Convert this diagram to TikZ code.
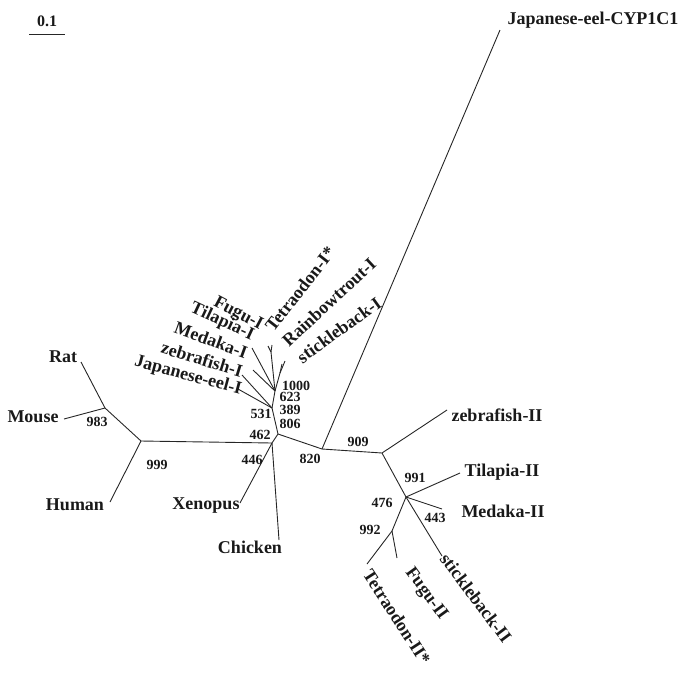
\documentclass[tikz,border=0pt]{standalone}
\usepackage{fontspec}
\setmainfont{Liberation Serif}
\begin{document}
\begin{tikzpicture}[x=1pt,y=-1pt,
  br/.style={line width=0.9pt, draw=black!85},
  leaf/.style={font=\fontsize{18}{20}\selectfont\bfseries, inner sep=0pt, text=black!90},
  boot/.style={font=\fontsize{14}{16}\selectfont\bfseries, inner sep=0pt, text=black!90}]
\useasboundingbox (0,0) rectangle (682,673);

% internal nodes
\coordinate (A) at (105,408);
\coordinate (B) at (141,441);
\coordinate (C) at (272,443);
\coordinate (D) at (278,434);
\coordinate (P) at (272,408);
\coordinate (Q) at (275,391);
\coordinate (RS) at (280,373);
\coordinate (Yf) at (271,352);
\coordinate (E) at (322,449);
\coordinate (F) at (382,453);
\coordinate (G) at (406,497);
\coordinate (H) at (392,531);

% tips
\coordinate (tRat) at (81,362);
\coordinate (tMouse) at (64,419);
\coordinate (tHuman) at (110,502);
\coordinate (tXen) at (240,503);
\coordinate (tChk) at (279,540);
\coordinate (tJe1) at (238,389);
\coordinate (tZf1) at (242,375);
\coordinate (tMed1) at (253,370);
\coordinate (tTil1) at (252,348);
\coordinate (tFugu1) at (268,346);
\coordinate (tTet1) at (272,345);
\coordinate (tRb1) at (285,361);
\coordinate (tSt1) at (282,364);
\coordinate (tJc) at (500,30);
\coordinate (tZf2) at (447,410);
\coordinate (tTil2) at (460,473);
\coordinate (tMed2) at (442,509);
\coordinate (tSt2) at (442,556);
\coordinate (tTet2) at (367,564);
\coordinate (tFugu2) at (397,558);

% branches
\draw[br] (A) -- (tRat);
\draw[br] (A) -- (tMouse);
\draw[br] (A) -- (B);
\draw[br] (B) -- (tHuman);
\draw[br] (B) -- (C);
\draw[br] (C) -- (tXen);
\draw[br] (C) -- (tChk);
\draw[br] (C) -- (D);
\draw[br] (D) -- (P);
\draw[br] (P) -- (tJe1);
\draw[br] (P) -- (tZf1);
\draw[br] (P) -- (Q);
\draw[br] (Q) -- (tMed1);
\draw[br] (Q) -- (RS);
\draw[br] (RS) -- (tRb1);
\draw[br] (RS) -- (tSt1);
\draw[br] (Q) -- (tTil1);
\draw[br] (Q) -- (Yf);
\draw[br] (Yf) -- (tFugu1);
\draw[br] (Yf) -- (tTet1);
\draw[br] (D) -- (E);
\draw[br] (E) -- (tJc);
\draw[br] (E) -- (F);
\draw[br] (F) -- (tZf2);
\draw[br] (F) -- (G);
\draw[br] (G) -- (tTil2);
\draw[br] (G) -- (tMed2);
\draw[br] (G) -- (tSt2);
\draw[br] (G) -- (H);
\draw[br] (H) -- (tTet2);
\draw[br] (H) -- (tFugu2);

% scale bar
\coordinate (s1) at (29,34);
\coordinate (s2) at (65,34);
\draw[br] (s1) -- (s2);
\node[boot, font=\fontsize{16}{18}\selectfont\bfseries] (scl) at (47,21) {0.1};

% leaf labels
\node[leaf] (lRat) at (63,357) {Rat};
\node[leaf] (lMouse) at (33,417) {Mouse};
\node[leaf] (lHuman) at (75,505) {Human};
\node[leaf] (lXen) at (206,506) {Xenopus};
\node[leaf] (lChk) at (250,547) {Chicken};
\node[leaf] (lJc) at (593,20) {Japanese-eel-CYP1C1};
\node[leaf] (lZf2) at (497,415) {zebrafish-II};
\node[leaf] (lTil2) at (502,472) {Tilapia-II};
\node[leaf] (lMed2) at (503,511) {Medaka-II};
\node[leaf, rotate=-15] (lJe1) at (188,376) {Japanese-eel-I};
\node[leaf, rotate=-17] (lZf1) at (202,359) {zebrafish-I};
\node[leaf, rotate=-20] (lMed1) at (211,340) {Medaka-I};
\node[leaf, rotate=-25] (lTil1) at (222,322) {Tilapia-I};
\node[leaf, rotate=-28] (lFugu1) at (238,314) {Fugu-I};
\node[leaf, rotate=52] (lTet1) at (300,289) {Tetraodon-I*};
\node[leaf, rotate=43] (lRb1) at (329,302) {Rainbowtrout-I};
\node[leaf, rotate=36] (lSt1) at (339,330) {stickleback-I};
\node[leaf, rotate=-57] (lTet2) at (397,617) {Tetraodon-II*};
\node[leaf, rotate=-54] (lFugu2) at (426,594) {Fugu-II};
\node[leaf, rotate=-53] (lSt2) at (476,598) {stickleback-II};

% bootstrap values
\node[boot] (b983) at (97,422) {983};
\node[boot] (b999) at (157,465) {999};
\node[boot] (b462) at (260,435) {462};
\node[boot] (b446) at (252,460) {446};
\node[boot] (b531) at (261,414) {531};
\node[boot] (b1000) at (296,386) {1000};
\node[boot] (b623) at (290,397) {623};
\node[boot] (b389) at (290,410) {389};
\node[boot] (b806) at (290,424) {806};
\node[boot] (b820) at (310,459) {820};
\node[boot] (b909) at (358,442) {909};
\node[boot] (b991) at (415,478) {991};
\node[boot] (b476) at (382,503) {476};
\node[boot] (b443) at (435,518) {443};
\node[boot] (b992) at (370,530) {992};
\end{tikzpicture}
\end{document}
